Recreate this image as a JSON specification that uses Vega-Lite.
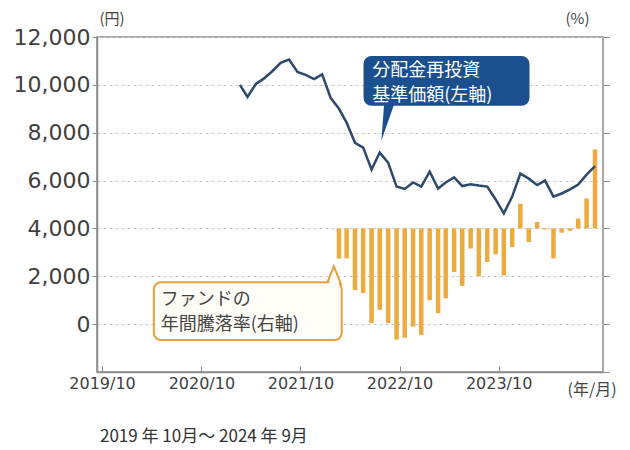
{
  "$schema": "https://vega.github.io/schema/vega-lite/v6.json",
  "width": 506,
  "height": 335,
  "autosize": "none",
  "padding": {"left": 97, "top": 37, "right": 27, "bottom": 78},
  "config": {
    "font": "Noto Sans CJK JP",
    "view": {"stroke": "#8a8a8a", "strokeWidth": 1.5},
    "axis": {"labelFont": "DejaVu Sans", "titleFont": "Noto Sans CJK JP", "labelColor": "#404040", "titleColor": "#444444", "domainColor": "#8a8a8a", "tickColor": "#8a8a8a", "domainWidth": 1.5}
  },
  "title": {"text": "2019 年 10月～ 2024 年 9月", "orient": "bottom", "anchor": "start", "frame": "group", "fontSize": 17, "fontWeight": "normal", "color": "#333333", "offset": 32, "dx": 3},
  "datasets": {
    "nav": [
      {"date": "2021-02-20", "value": 10000},
      {"date": "2021-03-20", "value": 9500},
      {"date": "2021-04-20", "value": 10040},
      {"date": "2021-05-20", "value": 10270},
      {"date": "2021-06-20", "value": 10580},
      {"date": "2021-07-20", "value": 10920},
      {"date": "2021-08-20", "value": 11060},
      {"date": "2021-09-20", "value": 10540},
      {"date": "2021-10-20", "value": 10420},
      {"date": "2021-11-20", "value": 10240},
      {"date": "2021-12-20", "value": 10440},
      {"date": "2022-01-20", "value": 9460},
      {"date": "2022-02-20", "value": 9000},
      {"date": "2022-03-20", "value": 8420},
      {"date": "2022-04-20", "value": 7580},
      {"date": "2022-05-20", "value": 7380},
      {"date": "2022-06-20", "value": 6460},
      {"date": "2022-07-20", "value": 7170},
      {"date": "2022-08-20", "value": 6750},
      {"date": "2022-09-20", "value": 5750},
      {"date": "2022-10-20", "value": 5650},
      {"date": "2022-11-20", "value": 5920},
      {"date": "2022-12-20", "value": 5750},
      {"date": "2023-01-20", "value": 6375},
      {"date": "2023-02-20", "value": 5670},
      {"date": "2023-03-20", "value": 5920},
      {"date": "2023-04-20", "value": 6130},
      {"date": "2023-05-20", "value": 5770},
      {"date": "2023-06-20", "value": 5850},
      {"date": "2023-07-20", "value": 5790},
      {"date": "2023-08-20", "value": 5750},
      {"date": "2023-09-20", "value": 5210},
      {"date": "2023-10-20", "value": 4630},
      {"date": "2023-11-20", "value": 5330},
      {"date": "2023-12-20", "value": 6290},
      {"date": "2024-01-20", "value": 6080},
      {"date": "2024-02-20", "value": 5810},
      {"date": "2024-03-20", "value": 6000},
      {"date": "2024-04-20", "value": 5330},
      {"date": "2024-05-20", "value": 5460},
      {"date": "2024-06-20", "value": 5630},
      {"date": "2024-07-20", "value": 5830},
      {"date": "2024-08-20", "value": 6250},
      {"date": "2024-09-20", "value": 6600}
    ],
    "ret": [
      {"date": "2022-02-20", "pct": -12.6},
      {"date": "2022-03-20", "pct": -12.5},
      {"date": "2022-04-20", "pct": -25.7},
      {"date": "2022-05-20", "pct": -27},
      {"date": "2022-06-20", "pct": -39.6},
      {"date": "2022-07-20", "pct": -34},
      {"date": "2022-08-20", "pct": -39.5},
      {"date": "2022-09-20", "pct": -46.5},
      {"date": "2022-10-20", "pct": -45.7},
      {"date": "2022-11-20", "pct": -41},
      {"date": "2022-12-20", "pct": -44.5},
      {"date": "2023-01-20", "pct": -30},
      {"date": "2023-02-20", "pct": -35.4},
      {"date": "2023-03-20", "pct": -29.2},
      {"date": "2023-04-20", "pct": -18.2},
      {"date": "2023-05-20", "pct": -24},
      {"date": "2023-06-20", "pct": -8.4},
      {"date": "2023-07-20", "pct": -20},
      {"date": "2023-08-20", "pct": -14},
      {"date": "2023-09-20", "pct": -10.8},
      {"date": "2023-10-20", "pct": -19.6},
      {"date": "2023-11-20", "pct": -7.8},
      {"date": "2023-12-20", "pct": 10.3},
      {"date": "2024-01-20", "pct": -5.7},
      {"date": "2024-02-20", "pct": 2.7},
      {"date": "2024-03-20", "pct": -0.5},
      {"date": "2024-04-20", "pct": -12.5},
      {"date": "2024-05-20", "pct": -1.8},
      {"date": "2024-06-20", "pct": -1},
      {"date": "2024-07-20", "pct": 4.1},
      {"date": "2024-08-20", "pct": 12.5},
      {"date": "2024-09-20", "pct": 33}
    ],
    "boxes": [
      {"name": "nav", "x": "2022-05-25", "x2": "2024-01-19", "y": 9167, "y2": 11167},
      {"name": "ret", "x": "2020-04-09", "x2": "2022-03-02", "y": -667, "y2": 1750}
    ],
    "labels": [
      {"name": "nav", "x": "2022-06-22", "y": 10600, "text": ["分配金再投資", "基準価額(左軸)"]},
      {"name": "ret", "x": "2020-05-04", "y": 1000, "text": ["ファンドの", "年間騰落率(右軸)"]}
    ],
    "pointers": [
      {"name": "nav", "x": "2022-08-05", "y": 8417},
      {"name": "ret", "x": "2022-02-01", "y": 2042}
    ]
  },
  "encoding": {
    "x": {"field": "date", "type": "temporal",
      "scale": {"domain": [{"year": 2019, "month": 10, "date": 1}, {"year": 2024, "month": 10, "date": 1}]},
      "axis": {"values": [{"year": 2019, "month": 10, "date": 1}, {"year": 2020, "month": 10, "date": 1}, {"year": 2021, "month": 10, "date": 1}, {"year": 2022, "month": 10, "date": 1}, {"year": 2023, "month": 10, "date": 1}],
        "format": "%Y/%m", "labelFontSize": 16, "tickSize": -6, "labelPadding": 9, "grid": false, "labelFlush": false,
        "title": "(年/月)", "titleFontSize": 16, "titleFontWeight": "normal", "titleAngle": 0, "titleX": 470, "titleY": 17, "titleAlign": "left", "titleBaseline": "middle"}
    }
  },
  "layer": [
    {
      "data": {"name": "ret"},
      "mark": {"type": "bar", "color": "#EDAA3E", "size": 4.5},
      "encoding": {
        "y": {"field": "pct", "type": "quantitative", "scale": {"domain": [-60, 80], "nice": false},
          "axis": {"orient": "right", "values": [-60, -40, -20, 0, 20, 40, 60, 80], "grid": false, "tickSize": 6, "labels": false, "domain": false,
            "title": "(%)", "titleFontSize": 15, "titleFontWeight": "normal", "titleAngle": 0, "titleX": -38, "titleY": -19, "titleAlign": "left", "titleBaseline": "middle"}},
        "y2": {"datum": 0}
      }
    },
    {
      "data": {"name": "nav"},
      "mark": {"type": "line", "color": "#2C4A6E", "strokeWidth": 2.5},
      "encoding": {
        "y": {"field": "value", "type": "quantitative", "scale": {"domain": [-2000, 12000], "nice": false},
          "axis": {"orient": "left", "values": [0, 2000, 4000, 6000, 8000, 10000, 12000], "format": ",.0f", "labelFontSize": 22, "tickSize": 5, "labelPadding": 2,
            "grid": true, "gridDash": [3, 3], "gridColor": "#c8c8c8", "gridWidth": 1,
            "title": "(円)", "titleFontSize": 15, "titleFontWeight": "normal", "titleAngle": 0, "titleX": 2, "titleY": -19, "titleAlign": "left", "titleBaseline": "middle"}}
      }
    },
    {
      "data": {"name": "pointers"},
      "transform": [{"filter": "datum.name === 'ret'"}],
      "mark": {"type": "point", "shape": "M-0.8,1 L0.8,1 L0,-1 Z", "size": 324, "filled": true, "fill": "#ffffff", "stroke": "#E3A23E", "strokeWidth": 2, "opacity": 1},
      "encoding": {
        "x": {"field": "x", "type": "temporal"},
        "y": {"field": "y", "type": "quantitative", "scale": {"domain": [-2000, 12000], "nice": false}, "axis": null}
      }
    },
    {
      "data": {"name": "boxes"},
      "mark": {"type": "rect", "cornerRadius": 7},
      "encoding": {
        "x": {"field": "x", "type": "temporal"},
        "x2": {"field": "x2"},
        "y": {"field": "y", "type": "quantitative", "scale": {"domain": [-2000, 12000], "nice": false}, "axis": null},
        "y2": {"field": "y2"},
        "fill": {"field": "name", "type": "nominal", "scale": {"domain": ["nav", "ret"], "range": ["#1B4F8E", "#FFFDF7"]}, "legend": null},
        "stroke": {"field": "name", "type": "nominal", "scale": {"domain": ["nav", "ret"], "range": ["#1B4F8E", "#E3A23E"]}, "legend": null},
        "strokeWidth": {"value": 2}
      }
    },
    {
      "data": {"name": "pointers"},
      "transform": [{"filter": "datum.name === 'ret'"}],
      "mark": {"type": "point", "shape": "M-0.8,1 L0.8,1 L0,-1 Z", "size": 200, "filled": true, "fill": "#FFFDF7", "strokeWidth": 0, "opacity": 1, "yOffset": 3},
      "encoding": {
        "x": {"field": "x", "type": "temporal"},
        "y": {"field": "y", "type": "quantitative", "scale": {"domain": [-2000, 12000], "nice": false}, "axis": null}
      }
    },
    {
      "data": {"name": "pointers"},
      "transform": [{"filter": "datum.name === 'nav'"}],
      "mark": {"type": "point", "shape": "M0,-1 L0.55,-1 L-0.15,1 Z", "size": 1296, "filled": true, "fill": "#1B4F8E", "strokeWidth": 0, "opacity": 1},
      "encoding": {
        "x": {"field": "x", "type": "temporal"},
        "y": {"field": "y", "type": "quantitative", "scale": {"domain": [-2000, 12000], "nice": false}, "axis": null}
      }
    },
    {
      "data": {"name": "labels"},
      "mark": {"type": "text", "align": "left", "baseline": "middle", "fontSize": 18, "lineHeight": 25},
      "encoding": {
        "x": {"field": "x", "type": "temporal"},
        "y": {"field": "y", "type": "quantitative", "scale": {"domain": [-2000, 12000], "nice": false}, "axis": null},
        "text": {"field": "text"},
        "color": {"field": "name", "type": "nominal", "scale": {"domain": ["nav", "ret"], "range": ["#ffffff", "#444444"]}, "legend": null}
      }
    }
  ],
  "resolve": {"scale": {"y": "independent", "fill": "independent", "stroke": "independent", "color": "independent"}}
}
